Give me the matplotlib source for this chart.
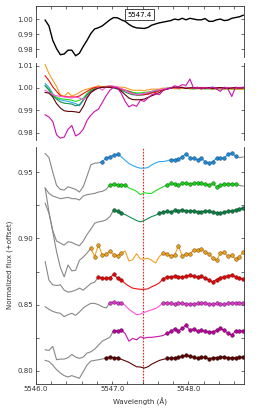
import numpy as np
import matplotlib
matplotlib.use('Agg')
import matplotlib.pyplot as plt
from matplotlib.ticker import MultipleLocator

plt.rcParams['font.family'] = ['DejaVu Sans']

# wavelength grid (A)
wl = np.round(5546.12 + 0.05 * np.arange(53), 2)
line_center = 5547.41

# top panel: reference spectrum
ref_flux = [0.9993, 0.9955, 0.986, 0.9805, 0.9765, 0.977, 0.9795, 0.9795, 0.9758, 0.9775,
            0.982, 0.986, 0.9905, 0.9935, 0.9943, 0.9955, 0.9975, 0.9995, 1.001, 1.0008,
            0.9995, 0.9985, 0.9965, 0.995, 0.9942, 0.994, 0.9938, 0.9945, 0.996, 0.9968,
            0.9975, 0.998, 0.9985, 0.999, 1.0, 0.9995, 1.0005, 0.9995, 1.0005, 1.0,
            0.9995, 0.9995, 1.0003, 0.9985, 0.9985, 0.9995, 1.0, 0.999, 0.9993, 1.0005,
            1.001, 1.0015, 1.0025]

# middle panel: normalised spectra of each star
mid_orange = [1.0105, 1.0065, 1.0035, 1.0007, 0.997, 0.9962, 0.998, 0.9965, 0.997, 0.998,
              0.999, 0.9995, 1.0, 1.0004, 1.001, 1.0004, 1.0008, 1.001, 1.0006, 1.0004,
              1.0004, 1.0002, 0.9995, 0.999, 0.999, 0.999, 0.9988, 0.9992, 0.9995, 0.9995,
              0.9995, 1.0, 0.9998, 1.0002, 0.9996, 1.0, 0.9998, 1.0002, 0.9996, 1.0,
              0.9998, 0.9995, 1.0, 0.9997, 0.9995, 0.9998, 0.9996, 0.9995, 0.9998, 0.9995,
              0.9996, 0.9994, 0.9995]
mid_red = [1.0055, 1.0033, 1.0005, 0.9985, 0.9965, 0.9962, 0.996, 0.996, 0.996, 0.9964,
           0.9975, 0.9985, 0.9995, 1.0002, 1.0004, 1.0004, 1.0003, 1.0004, 1.0003, 1.0,
           0.9995, 0.999, 0.9984, 0.9975, 0.997, 0.997, 0.997, 0.9972, 0.9978, 0.998,
           0.9988, 0.9992, 0.9995, 1.0, 1.0002, 0.9998, 1.0003, 1.0, 1.0002, 0.9998,
           1.0, 1.0002, 0.9998, 1.0, 0.9997, 1.0, 1.0002, 0.9998, 1.0, 1.0002,
           0.9998, 1.0, 1.0]
mid_blue = [1.002, 1.0003, 0.9975, 0.9955, 0.9947, 0.9943, 0.994, 0.9935, 0.993, 0.992,
            0.9945, 0.9968, 0.9985, 0.9995, 1.0002, 1.0004, 1.0004, 1.0004, 1.0004, 1.0002,
            0.9995, 0.999, 0.9985, 0.998, 0.9975, 0.9973, 0.9975, 0.9978, 0.998, 0.9985,
            0.999, 0.9995, 1.0, 1.0002, 1.0, 1.0003, 1.0001, 1.0004, 1.0, 1.0002,
            0.9999, 1.0003, 1.0, 1.0002, 1.0004, 1.0, 1.0002, 1.0001, 1.0003, 1.0,
            1.0002, 1.0, 1.0002]
mid_green = [1.001, 0.9995, 0.997, 0.9958, 0.9952, 0.995, 0.9948, 0.9945, 0.994, 0.9945,
             0.9955, 0.9975, 0.999, 0.9998, 1.0002, 1.0003, 1.0003, 1.0003, 1.0002, 1.0,
             0.9995, 0.999, 0.9985, 0.998, 0.9978, 0.9978, 0.998, 0.9982, 0.9985, 0.999,
             0.9992, 0.9995, 0.9998, 1.0, 0.9998, 0.9996, 0.9998, 1.0, 0.9997, 0.9995,
             0.9997, 0.9998, 0.9995, 0.9996, 0.9994, 0.9996, 0.9995, 0.9994, 0.9996, 0.9995,
             0.9994, 0.9995, 0.9994]
mid_dkgreen = [1.001, 0.999, 0.9965, 0.995, 0.9938, 0.9932, 0.993, 0.9928, 0.992, 0.9925,
               0.9945, 0.997, 0.9985, 0.9995, 1.0, 1.0003, 1.0003, 1.0002, 1.0, 0.9995,
               0.999, 0.9982, 0.9975, 0.997, 0.9968, 0.9968, 0.997, 0.9975, 0.998, 0.9985,
               0.999, 0.9995, 0.9998, 1.0, 1.0001, 0.9999, 1.0, 1.0002, 1.0, 0.9999,
               1.0, 1.0001, 0.9999, 1.0, 1.0, 0.9998, 1.0, 1.0001, 0.9999, 1.0,
               1.0, 0.9999, 1.0]
mid_pink = [0.999, 0.998, 0.997, 0.9965, 0.9962, 0.996, 0.9957, 0.9955, 0.996, 0.9955,
            0.9948, 0.996, 0.998, 0.999, 1.0004, 0.999, 1.0005, 1.001, 1.0008, 1.0004,
            0.9998, 0.999, 0.998, 0.9975, 0.997, 0.9972, 0.9975, 0.998, 0.9985, 0.999,
            0.9992, 0.9995, 0.9998, 1.0, 1.0002, 1.0, 1.0003, 1.0001, 1.0, 1.0002,
            1.0, 0.9998, 1.0001, 1.0, 1.0002, 1.0, 0.9999, 1.0001, 1.0, 1.0002,
            1.0, 1.0001, 1.0]
mid_magenta = [0.988, 0.987, 0.985, 0.979, 0.9775, 0.978, 0.9815, 0.9832, 0.9785, 0.9795,
               0.9815, 0.9855, 0.9878, 0.9895, 0.9905, 0.9935, 0.9965, 0.999, 1.0004, 1.0,
               0.9975, 0.994, 0.9915, 0.9925, 0.9918, 0.9945, 0.994, 0.9955, 0.997, 0.9975,
               0.997, 0.999, 0.9995, 1.0, 1.001, 1.0005, 1.0015, 1.0012, 1.004, 0.9998,
               1.0004, 0.9995, 1.0003, 0.9998, 1.0004, 0.9995, 0.9985, 1.0004, 0.9995, 0.9962,
               1.0004, 1.0, 1.0004]
mid_brown = [0.998, 0.9977, 0.996, 0.993, 0.991, 0.9898, 0.9895, 0.9895, 0.9893, 0.989,
             0.9917, 0.9955, 0.998, 0.9992, 1.0, 1.0003, 1.0004, 1.0004, 1.0003, 0.9998,
             0.9985, 0.997, 0.9955, 0.9948, 0.9947, 0.9948, 0.995, 0.9958, 0.9965, 0.9972,
             0.998, 0.999, 0.9995, 1.0, 1.0004, 1.0004, 1.0002, 0.9998, 1.0, 1.0002,
             1.0, 0.9998, 1.0, 1.0002, 0.9999, 1.0, 1.0002, 1.0, 0.9998, 1.0,
             1.0002, 1.0, 1.0001]

# bottom panel: spectra with offsets
bot_blue = [0.964, 0.961, 0.950, 0.940, 0.937, 0.9365, 0.939, 0.938, 0.937, 0.935,
            0.939, 0.947, 0.9555, 0.9568, 0.957, 0.958, 0.9605, 0.9618, 0.9628, 0.9638,
            0.9615, 0.959, 0.9565, 0.955, 0.9538, 0.953, 0.953, 0.9535, 0.9555, 0.957,
            0.958, 0.958, 0.9585, 0.9595, 0.9593, 0.9598, 0.9618, 0.9638, 0.961, 0.9605,
            0.9593, 0.9605, 0.958, 0.9568, 0.958, 0.9605, 0.9605, 0.9605, 0.9638, 0.9643,
            0.962, 0.961, 0.9615]
bot_green = [0.938, 0.934, 0.932, 0.931, 0.930, 0.9305, 0.931, 0.930, 0.930, 0.929,
             0.932, 0.933, 0.9335, 0.934, 0.935, 0.9355, 0.937, 0.9405, 0.941, 0.9405,
             0.940, 0.9405, 0.938, 0.937, 0.9355, 0.933, 0.9345, 0.934, 0.934, 0.936,
             0.9375, 0.939, 0.9405, 0.9415, 0.941, 0.9405, 0.9415, 0.9415, 0.941, 0.9415,
             0.942, 0.9415, 0.941, 0.9405, 0.9415, 0.939, 0.9405, 0.941, 0.941, 0.941,
             0.941, 0.940, 0.9395]
bot_dkgreen = [0.9266, 0.919, 0.906, 0.898, 0.8965, 0.895, 0.8975, 0.897, 0.8955, 0.8945,
               0.898, 0.903, 0.907, 0.9115, 0.9125, 0.913, 0.914, 0.9165, 0.9215, 0.9205,
               0.919, 0.918, 0.9165, 0.915, 0.9135, 0.9125, 0.9135, 0.915, 0.9165, 0.9175,
               0.919, 0.920, 0.9205, 0.920, 0.9212, 0.921, 0.9218, 0.9205, 0.921, 0.921,
               0.920, 0.920, 0.9208, 0.9205, 0.920, 0.9195, 0.919, 0.920, 0.9205, 0.921,
               0.9215, 0.9225, 0.923]
bot_orange = [0.938, 0.920, 0.905, 0.890, 0.878, 0.871, 0.880, 0.8755, 0.876, 0.8835,
              0.886, 0.889, 0.8926, 0.8863, 0.8951, 0.8875, 0.888, 0.8905, 0.8878, 0.887,
              0.889, 0.8905, 0.883, 0.884, 0.8885, 0.8845, 0.8845, 0.885, 0.8835, 0.8815,
              0.8865, 0.8888, 0.888, 0.8865, 0.8875, 0.8945, 0.8865, 0.8885, 0.8885, 0.891,
              0.8913, 0.892, 0.8895, 0.8885, 0.885, 0.8835, 0.889, 0.8895, 0.8865, 0.8875,
              0.8845, 0.886, 0.890]
bot_red = [0.8825, 0.8685, 0.865, 0.8645, 0.865, 0.861, 0.8595, 0.860, 0.861, 0.8625,
           0.861, 0.8635, 0.866, 0.867, 0.8711, 0.8698, 0.8698, 0.8705, 0.8728, 0.870,
           0.8686, 0.866, 0.864, 0.8625, 0.862, 0.8616, 0.8616, 0.862, 0.8636, 0.8648,
           0.8665, 0.8695, 0.8711, 0.8711, 0.8715, 0.8712, 0.8706, 0.8715, 0.8724, 0.8715,
           0.8711, 0.8716, 0.870, 0.8686, 0.8673, 0.869, 0.8705, 0.8711, 0.872, 0.8724,
           0.8711, 0.870, 0.8695]
bot_pink = [0.8485, 0.8465, 0.845, 0.844, 0.8435, 0.841, 0.8425, 0.8435, 0.842, 0.8445,
            0.8475, 0.8495, 0.851, 0.851, 0.850, 0.8485, 0.8475, 0.8515, 0.8522, 0.851,
            0.8516, 0.8495, 0.8465, 0.8445, 0.8425, 0.843, 0.8442, 0.8452, 0.8462, 0.8472,
            0.849, 0.8516, 0.8514, 0.851, 0.8504, 0.8516, 0.851, 0.8508, 0.8503, 0.8508,
            0.851, 0.8515, 0.8512, 0.8503, 0.8506, 0.851, 0.8505, 0.8503, 0.851, 0.8516,
            0.8512, 0.851, 0.8516]
bot_magenta = [0.816, 0.8155, 0.8186, 0.8085, 0.809, 0.809, 0.810, 0.8125, 0.8105, 0.8095,
               0.8105, 0.8135, 0.8145, 0.8165, 0.8195, 0.8225, 0.824, 0.8255, 0.8305, 0.8303,
               0.8308, 0.8283, 0.8225, 0.8246, 0.8235, 0.8258, 0.8248, 0.8254, 0.8254, 0.8258,
               0.8262, 0.8268, 0.8285, 0.8298, 0.832, 0.8303, 0.8321, 0.8345, 0.8308, 0.8318,
               0.8298, 0.8306, 0.830, 0.8292, 0.8295, 0.8308, 0.8321, 0.8306, 0.8285, 0.827,
               0.8303, 0.8303, 0.8303]
bot_brown = [0.808, 0.8072, 0.8045, 0.801, 0.7985, 0.7965, 0.7955, 0.7965, 0.7955, 0.7945,
             0.7995, 0.8045, 0.8075, 0.808, 0.8085, 0.809, 0.810, 0.8106, 0.8101, 0.8098,
             0.8088, 0.8077, 0.8065, 0.8048, 0.8032, 0.803, 0.8022, 0.8032, 0.8052, 0.8066,
             0.808, 0.8088, 0.8095, 0.8097, 0.8098, 0.8102, 0.8112, 0.8118, 0.8111, 0.8104,
             0.8098, 0.8106, 0.8102, 0.8093, 0.8098, 0.8101, 0.8104, 0.8106, 0.810, 0.8098,
             0.8101, 0.8102, 0.8106]

line_colors = ['#30a8f0', '#22dd22', '#149050', '#f5a020', '#ee1111', '#ff55dd', '#cc10aa', '#5a0505']
mark_colors = ['#1f8ad8', '#18d018', '#0c8044', '#eea018', '#e00808', '#dd38cc', '#bb00a0', '#600000']
edge_colors = ['#104870', '#0a600a', '#054020', '#704808', '#700000', '#601860', '#580048', '#200000']
mid_all = [mid_blue, mid_green, mid_dkgreen, mid_orange, mid_red, mid_pink, mid_brown, mid_magenta]
mid_cols = [line_colors[0], line_colors[1], line_colors[2], line_colors[3], line_colors[4],
            line_colors[5], line_colors[7], line_colors[6]]
bot_all = [bot_blue, bot_green, bot_dkgreen, bot_orange, bot_red, bot_pink, bot_magenta, bot_brown]
# index where coloured part starts, end of first marker window,
# start of second marker window, end of coloured part
col_start = [15, 17, 18, 12, 14, 17, 18, 16]
mark1_end = [19, 21, 20, 20, 20, 20, 20, 19]
mark2_start = [33, 32, 30, 31, 31, 31, 32, 32]
col_end = [50, 50, 52, 52, 52, 52, 52, 52]

fig = plt.figure(figsize=(2.74, 4.11), dpi=100)
ax1 = fig.add_axes([0.1314, 0.8613, 0.759, 0.1241])
ax2 = fig.add_axes([0.1314, 0.6594, 0.759, 0.1873])
ax3 = fig.add_axes([0.1314, 0.0667, 0.759, 0.5757])

ax1.plot(wl, ref_flux, color='black', lw=1.0)
ax1.text(line_center - 0.05, 1.003, '5547.4', fontsize=5, ha='center', va='center',
         bbox=dict(boxstyle='square,pad=0.3', fc='white', ec='black', lw=0.5))

for f, c in zip(mid_all, mid_cols):
    ax2.plot(wl, f, color=c, lw=0.8)

ax3.axvline(line_center, color='#ff1a1a', ls=(0, (1.5, 1.2)), lw=0.8, zorder=1)
for k in range(8):
    f = np.array(bot_all[k])
    s, e = col_start[k], col_end[k]
    ax3.plot(wl[:s + 1], f[:s + 1], color='#888888', lw=0.8)
    if e < 52:
        ax3.plot(wl[e:], f[e:], color='#888888', lw=0.8)
    ax3.plot(wl[s:e + 1], f[s:e + 1], color=line_colors[k], lw=0.8)
    idx = list(range(s, mark1_end[k] + 1)) + list(range(mark2_start[k], e + 1))
    ax3.plot(wl[idx], f[idx], ls='none', marker='o', ms=2.6, mfc=mark_colors[k],
             mec=edge_colors[k], mew=0.35)

for ax in (ax1, ax2, ax3):
    ax.set_xlim(5546.0, 5548.73)
    ax.xaxis.set_major_locator(MultipleLocator(1.0))
    ax.xaxis.set_minor_locator(MultipleLocator(0.2))
    ax.tick_params(which='both', direction='in', labelsize=5, width=0.5, right=True, pad=2,
                   colors='#333333')
    ax.tick_params(which='major', length=2.5)
    ax.tick_params(which='minor', length=2.5)
    for sp in ax.spines.values():
        sp.set_linewidth(0.6)
        sp.set_color('#333333')

ax1.set_ylim(0.975, 1.0086)
ax1.yaxis.set_major_locator(MultipleLocator(0.01))
ax1.yaxis.set_minor_locator(MultipleLocator(0.01))
ax1.spines['bottom'].set_visible(False)
ax1.tick_params(which='both', top=True, bottom=False, labelbottom=False)

ax2.set_ylim(0.9767, 1.0112)
ax2.yaxis.set_major_locator(MultipleLocator(0.01))
ax2.yaxis.set_minor_locator(MultipleLocator(0.01))
ax2.spines['bottom'].set_visible(False)
ax2.spines['top'].set_visible(False)
ax2.tick_params(which='both', top=False, bottom=False, labelbottom=False)

ax3.set_ylim(0.7905, 0.969)
ax3.yaxis.set_major_locator(MultipleLocator(0.05))
ax3.yaxis.set_minor_locator(MultipleLocator(0.025))
ax3.spines['top'].set_visible(False)
ax3.tick_params(which='both', top=False, bottom=True)
ax3.xaxis.set_major_formatter(plt.FuncFormatter(lambda v, p: '%.1f' % v))
ax3.set_xlabel('Wavelength (Å)', fontsize=5, color='#333333', labelpad=4)
ax3.set_ylabel('Normalized flux (+offset)', fontsize=5, color='#333333', labelpad=3)

fig.savefig('out.png', dpi=100)
